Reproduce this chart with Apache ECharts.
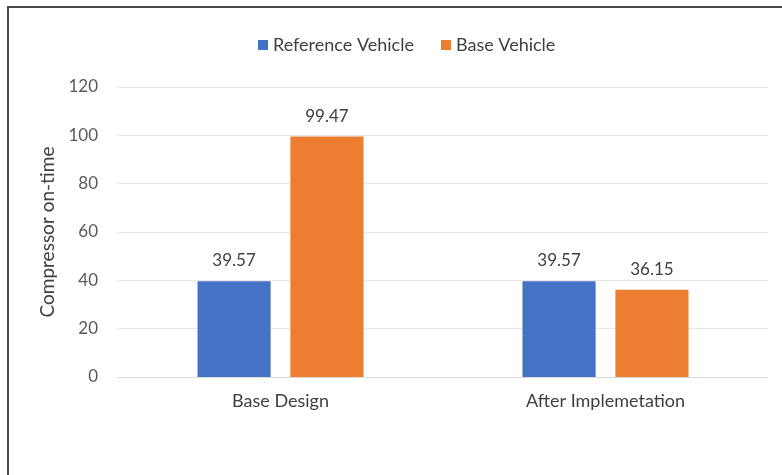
<!DOCTYPE html>
<html>
<head>
<meta charset="utf-8">
<script src="https://cdn.jsdelivr.net/npm/echarts@6/dist/echarts.min.js"></script>
<style>
  html, body { margin: 0; padding: 0; background: #fff; }
  #chart { width: 782px; height: 475px; }
</style>
</head>
<body>
<div id="chart"></div>
<script>
// Compressor on-time per scenario
const categories = ['Base Design', 'After Implemetation'];
const referenceVehicle = [39.57, 39.57];
const baseVehicle = [99.47, 36.15];
const yTicks = { min: 0, max: 120, interval: 20 };

const textColor = '#595959';
const fontFamily = 'Lato, "Open Sans", sans-serif';

const chart = echarts.init(document.getElementById('chart'), null, { renderer: 'canvas' });

const valueLabel = {
  show: true,
  position: 'top',
  distance: 12,
  color: '#404040',
  fontFamily: fontFamily,
  fontSize: 17
};

chart.setOption({
  animation: false,
  backgroundColor: '#ffffff',
  graphic: [
    { type: 'line', shape: { x1: 7, y1: 7, x2: 782, y2: 7 }, style: { stroke: '#4a4a4a', lineWidth: 2 } },
    { type: 'line', shape: { x1: 8, y1: 6, x2: 8, y2: 475 }, style: { stroke: '#4a4a4a', lineWidth: 2 } }
  ],
  legend: {
    top: 31,
    left: 253,
    itemWidth: 10,
    itemHeight: 10,
    itemGap: 27,
    icon: 'rect',
    textStyle: { color: '#404040', fontFamily: fontFamily, fontSize: 18 },
    data: ['Reference Vehicle', 'Base Vehicle']
  },
  grid: { left: 118, right: 14, top: 87, bottom: 98 },
  xAxis: {
    type: 'category',
    data: categories,
    axisLine: { show: true, lineStyle: { color: '#d9d9d9', width: 1 } },
    axisTick: { show: false },
    axisLabel: { color: '#404040', fontFamily: fontFamily, fontSize: 18, margin: 15 }
  },
  yAxis: {
    type: 'value',
    min: yTicks.min,
    max: yTicks.max,
    interval: yTicks.interval,
    name: 'Compressor on-time',
    nameLocation: 'middle',
    nameGap: 58,
    nameTextStyle: { color: '#404040', fontFamily: fontFamily, fontSize: 19 },
    axisLine: { show: false },
    axisTick: { show: false },
    axisLabel: { color: textColor, fontFamily: fontFamily, fontSize: 17, margin: 20 },
    splitLine: { lineStyle: { color: '#e6e6e6', width: 1 } }
  },
  series: [
    {
      name: 'Reference Vehicle',
      type: 'bar',
      data: referenceVehicle,
      barWidth: '22.5%',
      barGap: '27%',
      itemStyle: { color: '#4472c4' },
      label: valueLabel
    },
    {
      name: 'Base Vehicle',
      type: 'bar',
      data: baseVehicle,
      barWidth: '22.5%',
      itemStyle: { color: '#ed7d31' },
      label: valueLabel
    }
  ]
});
</script>
</body>
</html>
